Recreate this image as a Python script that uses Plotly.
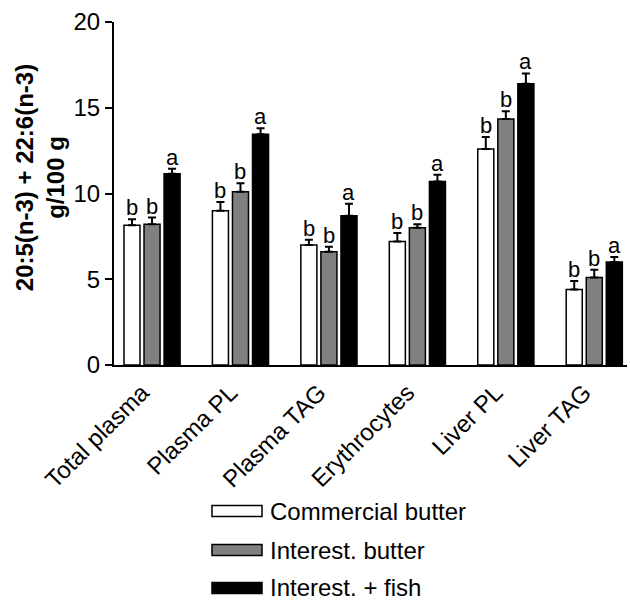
import plotly.graph_objects as go

categories = ["Total plasma", "Plasma PL", "Plasma TAG", "Erythrocytes", "Liver PL", "Liver TAG"]
series_names = ["Commercial butter", "Interest. butter", "Interest. + fish"]
commercial = [8.15, 9.0, 7.0, 7.2, 12.6, 4.4]
commercial_err = [0.35, 0.5, 0.3, 0.5, 0.7, 0.5]
interest = [8.2, 10.1, 6.6, 8.0, 14.35, 5.1]
interest_err = [0.4, 0.5, 0.3, 0.2, 0.45, 0.45]
fish = [11.15, 13.45, 8.7, 10.7, 16.4, 6.0]
fish_err = [0.3, 0.35, 0.7, 0.4, 0.6, 0.3]
letters_commercial = ["b", "b", "b", "b", "b", "b"]
letters_interest = ["b", "b", "b", "b", "b", "b"]
letters_fish = ["a", "a", "a", "a", "a", "a"]
y_ticks = [0, 5, 10, 15, 20]

values = [commercial, interest, fish]
errors = [commercial_err, interest_err, fish_err]
letters = [letters_commercial, letters_interest, letters_fish]
colors = ["#ffffff", "#808080", "#000000"]

FONT = "Liberation Sans, Arial, sans-serif"

fig = go.Figure()
for k in range(3):
    fig.add_trace(go.Bar(
        x=categories, y=values[k], name=series_names[k],
        marker=dict(color=colors[k], line=dict(color="black", width=1.5)),
        error_y=dict(type="data", array=errors[k], arrayminus=[0] * len(categories),
                     symmetric=False, color="black", thickness=2, width=4),
        showlegend=False,
    ))

annotations = []
for k in range(3):
    for i, c in enumerate(categories):
        annotations.append(dict(
            x=c, y=values[k][i] + errors[k][i], xref="x", yref="y",
            text=letters[k][i], showarrow=False, xanchor="center", yanchor="bottom",
            xshift=(k - 1) * 20, yshift=-3,
            font=dict(family=FONT, size=22, color="black"),
        ))

# y-axis title
annotations.append(dict(
    x=-0.144, y=0.545, xref="paper", yref="paper",
    text="<b>20:5(n-3) + 22:6(n-3)<br>g/100 g</b>", textangle=-90,
    showarrow=False, xanchor="center", yanchor="middle",
    font=dict(family=FONT, size=24, color="black"),
))

# manual legend
shapes = []
row_y = [-0.4257, -0.5394, -0.6501]
for k in range(3):
    shapes.append(dict(
        type="rect", xref="paper", yref="paper",
        x0=0.191, x1=0.2885, y0=row_y[k] - 0.016, y1=row_y[k] + 0.016,
        fillcolor=colors[k], line=dict(color="black", width=1.5),
    ))
    annotations.append(dict(
        x=0.302, y=row_y[k], xref="paper", yref="paper",
        text=series_names[k], showarrow=False, xanchor="left", yanchor="middle",
        borderpad=0,
        font=dict(family=FONT, size=24, color="black"),
    ))

fig.update_layout(
    width=630, height=601,
    margin=dict(l=114, r=3, t=22, b=236),
    paper_bgcolor="white", plot_bgcolor="white",
    barmode="group", bargap=0.32, bargroupgap=0.2,
    font=dict(family=FONT, color="black"),
    annotations=annotations, shapes=shapes,
    xaxis=dict(
        range=[-0.43, 5.37], showline=True, linecolor="black", linewidth=2,
        ticks="", tickangle=-45, tickfont=dict(size=24, family=FONT),
        ticklabelshift=-10, ticklabelstandoff=2,
        showgrid=False, zeroline=False,
    ),
    yaxis=dict(
        range=[0, 20], tickvals=y_ticks, showline=True, linecolor="black", linewidth=2,
        ticks="outside", ticklen=7, tickwidth=2, tickcolor="black",
        tickfont=dict(size=24, family=FONT), showgrid=False, zeroline=False,
    ),
)

fig.write_html("out.html", config={"displayModeBar": False},
               post_script="document.body.style.margin='0';document.body.style.overflow='hidden';")
